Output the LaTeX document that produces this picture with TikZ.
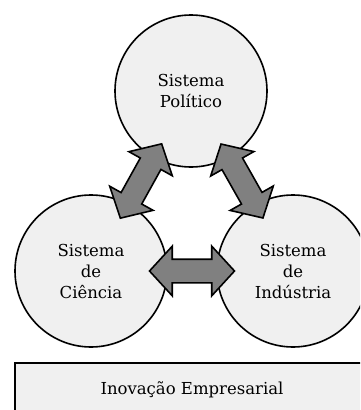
\documentclass[tikz,border=0pt]{standalone}
\usepackage{fontspec}
\setmainfont{DejaVu Serif}
\usetikzlibrary{shapes.arrows}
\tikzset{
  sistema/.style={circle, draw, line width=1.6pt, fill=black!6,
    minimum size=152pt, inner sep=0pt, align=center,
    font=\fontsize{16.5}{21}\selectfont},
  seta/.style={double arrow, draw, line width=1.6pt, fill=black!50,
    minimum height=85pt, inner xsep=0pt, inner ysep=11pt,
    double arrow head extend=13pt, double arrow tip angle=95},
  caixa/.style={rectangle, draw, line width=1.6pt, fill=black!6,
    minimum width=354pt, minimum height=54pt,
    font=\fontsize{16.5}{21}\selectfont},
}
\begin{document}
\begin{tikzpicture}[x=1pt,y=-1pt]
\clip (0,0) rectangle (360,410);
%
\node (pol) at (191,91)  [sistema] {Sistema\\Político};
\node (cie) at (91,271)  [sistema] {Sistema\\de\\Ciência};
\node (ind) at (293,271) [sistema] {Sistema\\de\\Indústria};
%
\path (pol) -- (cie) node[midway,sloped,seta]{};
\path (pol) -- (ind) node[midway,sloped,seta]{};
\path (cie) -- (ind) node[midway,sloped,seta]{};
%
\node (ino) at (192,390) [caixa] {Inovação Empresarial};
\end{tikzpicture}
\end{document}
